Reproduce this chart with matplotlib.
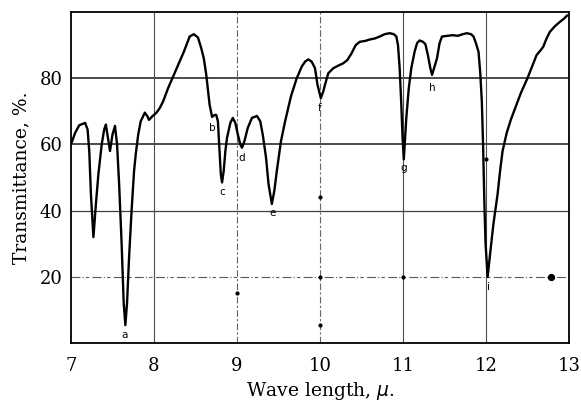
import matplotlib
matplotlib.use("Agg")
import matplotlib.pyplot as plt

# Wave length (micron) and transmittance (%)
wavelength = [
    7.00, 7.05, 7.10, 7.17, 7.20, 7.22, 7.24, 7.27, 7.30, 7.33, 7.37, 7.40, 7.42,
    7.445, 7.47, 7.50, 7.53, 7.555, 7.58, 7.61, 7.635, 7.655, 7.675, 7.70, 7.73,
    7.76, 7.78, 7.81, 7.84, 7.89, 7.92, 7.94, 7.98, 8.03, 8.07, 8.11, 8.17, 8.23,
    8.30, 8.36, 8.43, 8.48, 8.53, 8.57, 8.60, 8.63, 8.67, 8.70, 8.73, 8.75, 8.77,
    8.79, 8.805, 8.82, 8.84, 8.86, 8.88, 8.92, 8.95, 8.98, 9.01, 9.04, 9.06, 9.09,
    9.13, 9.18, 9.24, 9.28, 9.31, 9.35, 9.38, 9.42, 9.45, 9.48, 9.53, 9.58, 9.65,
    9.72, 9.78, 9.82, 9.86, 9.90, 9.94, 9.97, 10.01, 10.04, 10.06, 10.10, 10.16,
    10.22, 10.28, 10.33, 10.38, 10.43, 10.48, 10.55, 10.60, 10.66, 10.72, 10.78,
    10.84, 10.89, 10.92, 10.94, 10.96, 10.98, 10.995, 11.01, 11.025, 11.04, 11.07,
    11.10, 11.14, 11.17, 11.20, 11.24, 11.27, 11.30, 11.33, 11.35, 11.38, 11.41,
    11.44, 11.47, 11.53, 11.60, 11.66, 11.72, 11.77, 11.82, 11.85, 11.88, 11.91,
    11.93, 11.95, 11.965, 11.98, 11.995, 12.02, 12.05, 12.09, 12.14, 12.17, 12.20,
    12.25, 12.30, 12.36, 12.42, 12.50, 12.57, 12.61, 12.66, 12.69, 12.73, 12.77,
    12.83, 12.89, 12.94, 12.98,
]
transmittance = [
    60, 63.5, 65.8, 66.5, 64.5, 58, 45, 32, 42, 51, 60, 64.5, 66,
    62, 58, 63, 65.6, 60, 48, 30, 12, 5.4, 12, 26, 40,
    52, 57, 63, 67, 69.6, 68.5, 67.4, 68.5, 69.6, 71, 73, 77, 80.5,
    84.5, 88, 92.6, 93.3, 92.3, 89, 86, 81, 72, 68.3, 68.9, 68.9, 67,
    58, 51, 48.5, 52, 58, 62, 66.5, 68, 66.5, 63, 60, 59, 61,
    65, 68, 68.6, 67, 63, 56, 48, 42, 46, 52, 61, 67, 74.5,
    80, 83.5, 85, 85.7, 85, 83, 78, 74, 76, 78, 81.5, 83,
    83.8, 84.5, 85.5, 87.5, 90, 91, 91.3, 91.7, 92, 92.6, 93.3,
    93.6, 93.3, 92.6, 90, 83, 72, 62, 55.5, 62, 68, 77,
    83, 88, 90.6, 91.4, 91, 90.3, 87, 83, 81, 83.5, 86,
    90.5, 92.6, 92.8, 93, 92.8, 93.3, 93.6, 93.3, 92.6, 90.5, 88,
    82, 73, 60, 43, 30, 20, 27, 36, 45, 52, 58,
    63.5, 67.5, 71.5, 75.5, 80, 84.5, 87, 88.5, 89.5, 92, 94,
    95.7, 97, 98, 99,
]

# band labels
band_names = ["a", "b", "c", "d", "e", "f", "g", "h", "i"]
band_x = [7.65, 8.70, 8.82, 9.06, 9.43, 10.0, 11.01, 11.35, 12.03]
band_y = [2.4, 65, 45.5, 56, 39.2, 71, 53, 77, 17]

# stray specks in the print
speck_x = [9.0, 10.0, 10.0, 10.0, 11.0, 12.0]
speck_y = [15, 5.4, 20, 44, 20, 55.5]
big_speck_x = [12.78]
big_speck_y = [20]

x_ticks = [7, 8, 9, 10, 11, 12, 13]
y_ticks = [20, 40, 60, 80]

serif = ["DejaVu Serif"]

fig = plt.figure(figsize=(5.81, 4.03), dpi=100)
ax = fig.add_axes([0.1222, 0.1489, 0.8571, 0.8213])
ax.set_xlim(7, 13)
ax.set_ylim(0, 100)

# grid lines
for yv in [60, 80]:
    ax.axhline(yv, color="0.1", lw=1.1, zorder=1)
ax.axhline(40, color="0.25", lw=0.9, zorder=1)
ax.axhline(20, color="0.35", lw=0.8, ls=(0, (8, 2, 1, 2, 3, 3)), zorder=1)
for xv in [8, 11, 12]:
    ax.axvline(xv, color="0.3", lw=0.8, zorder=1)
for xv in [9, 10]:
    ax.axvline(xv, color="0.4", lw=0.8, ls=(0, (6, 2, 2, 2)), zorder=1)

ax.plot(wavelength, transmittance, color="black", lw=1.7, zorder=3,
        solid_joinstyle="round", solid_capstyle="round")

ax.scatter(speck_x, speck_y, s=4, color="black", zorder=2)
ax.scatter(big_speck_x, big_speck_y, s=18, color="black", zorder=2)

for name, bx, by in zip(band_names, band_x, band_y):
    ax.text(bx, by, name, ha="center", va="center", fontsize=7.5,
            family=["DejaVu Sans"], zorder=4)

for sp in ax.spines.values():
    sp.set_linewidth(1.3)
ax.set_xticks(x_ticks)
ax.set_yticks(y_ticks)
ax.tick_params(length=0, pad=10, labelsize=13)
ax.tick_params(axis="y", pad=6)
for lab in ax.get_xticklabels() + ax.get_yticklabels():
    lab.set_family(serif)

ax.set_xlabel("Wave length, $\\mu$.", fontsize=13.5, family=serif, labelpad=4)
ax.set_ylabel("Transmittance, %.", fontsize=13.5, family=serif, labelpad=7)

fig.savefig("out.png", dpi=100)
